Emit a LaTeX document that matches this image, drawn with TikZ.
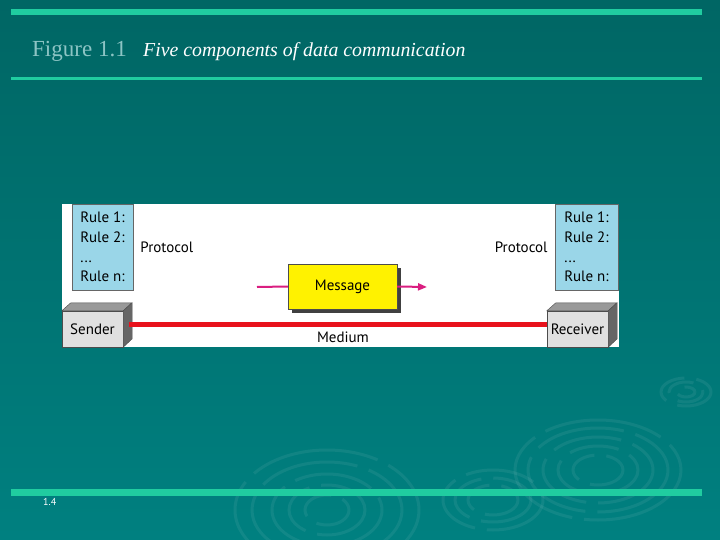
\documentclass[tikz,border=0pt]{standalone}
\usepackage{fontspec}
\setmainfont{Liberation Serif}
\setsansfont{PT Sans}
\usepackage{xcolor}
\usetikzlibrary{positioning, calc, arrows.meta, shadows}

\definecolor{slidetop}{RGB}{0,102,100}
\definecolor{slidebot}{RGB}{0,128,128}
\definecolor{barcol}{RGB}{32,204,160}
\definecolor{capcol}{RGB}{140,196,196}
\definecolor{rulefill}{RGB}{154,214,232}
\definecolor{msgpink}{RGB}{218,30,128}
\definecolor{medred}{RGB}{232,18,28}

\begin{document}
\begin{tikzpicture}[x=1pt, y=-1pt,
    ring/.style={draw=white, opacity=0.065, line width=3pt},
    bar/.style={draw=barcol, line width=#1},
    rules/.style={draw=black!60, fill=rulefill, minimum width=61pt, minimum height=86pt,
                  inner sep=0pt, align=left, font=\sffamily\fontsize{15}{19.6}\selectfont},
    unitbox/.style={draw=black!70, fill=black!12, minimum width=61pt, minimum height=36pt,
                    inner sep=0pt, font=\sffamily\fontsize{15}{18}\selectfont},
    topface/.style={draw=black!70, fill=black!40},
    sideface/.style={draw=black!70, fill=black!60},
    label/.style={font=\sffamily\fontsize{15}{18}\selectfont, inner sep=0pt}]

    % Slide background
    \fill[top color=slidetop, bottom color=slidebot] (0,0) rectangle (720,540);
    \useasboundingbox (0,0) rectangle (720,540);
    \begin{scope}
        \clip (0,0) rectangle (720,540);
        \foreach \cx/\cy/\rx/\ry/\dsh in {686/392/25/14/40, 686/392/17/10/30, 686/392/9/5/20,
                598/470/83/50/120, 598/470/70/42/90, 598/470/55/33/70, 598/470/40/24/50, 598/470/25/15/40,
                493/500/50/30/70, 493/500/38/22/60, 493/500/25/15/40,
                327/510/92/60/130, 327/510/75/48/100, 327/510/55/36/80, 327/510/38/25/60, 327/510/22/15/40}
            \draw[ring, dash pattern=on \dsh pt off 12pt] (\cx,\cy) ellipse [x radius=\rx, y radius=\ry];
    \end{scope}

    % Bars
    \draw[bar=6pt] (11,12.5) -- (702,12.5);
    \draw[bar=3pt] (11,78.5) -- (702,78.5);
    \draw[bar=7pt] (11,492.5) -- (702,492.5);

    % Caption
    \node[anchor=base west, inner sep=0pt, text=capcol, font=\fontsize{23}{26}\selectfont] (fig) at (32,57) {Figure 1.1};
    \node[anchor=base west, inner sep=0pt, text=white, font=\itshape\fontsize{19.8}{23}\selectfont] (title) at (143,57) {Five components of data communication};
    \node[anchor=west, inner sep=0pt, text=white, font=\sffamily\fontsize{10}{11}\selectfont] (page) at (43,502) {1.4};

    % Diagram area
    \fill[white] (62,204) rectangle (619,347);

    % Rules
    \node[rules] (rulesL) at (102.5,247) {Rule 1:\\Rule 2:\\...\\Rule n:};
    \node[rules, minimum width=63pt] (rulesR) at (586.5,247) {Rule 1:\\Rule 2:\\...\\Rule n:};
    \node[label, right=7pt of rulesL] (protoL) {Protocol};
    \node[label, left=7pt of rulesR] (protoR) {Protocol};

    % Sender and receiver
    \node[unitbox] (sender) at (92.5,329) {Sender};
    \node[unitbox] (receiver) at (577.5,329) {Receiver};
    \foreach \u in {sender, receiver} {
        \filldraw[topface] (\u.north west) -- ++(9,-8) -- ++(61,0) -- (\u.north east) -- cycle;
        \filldraw[sideface] (\u.north east) -- ++(9,-8) -- ++(0,36) -- (\u.south east) -- cycle;
    }

    % Medium
    \coordinate (medL) at ($(sender.east)+(6,-5)$);
    \draw[medred, line width=5pt] (medL) -- (medL -| receiver.west);
    \node[label] (medium) at (343,337) {Medium};

    % Message
    \node[draw=black!70, fill=yellow, minimum width=109pt, minimum height=45pt, label,
          drop shadow={shadow xshift=4pt, shadow yshift=-4pt, fill=black!75, opacity=1}]
          (msg) at (342.5,286.5) {Message};
    \coordinate (msgin) at (257,287);
    \coordinate (msgout) at (427,287);
    \draw[msgpink, line width=2pt] (msgin) -- (msg.west);
    \draw[msgpink, line width=2pt, -{Triangle[length=9pt, width=7pt]}] (msg.east) -- (msgout);
\end{tikzpicture}
\end{document}
